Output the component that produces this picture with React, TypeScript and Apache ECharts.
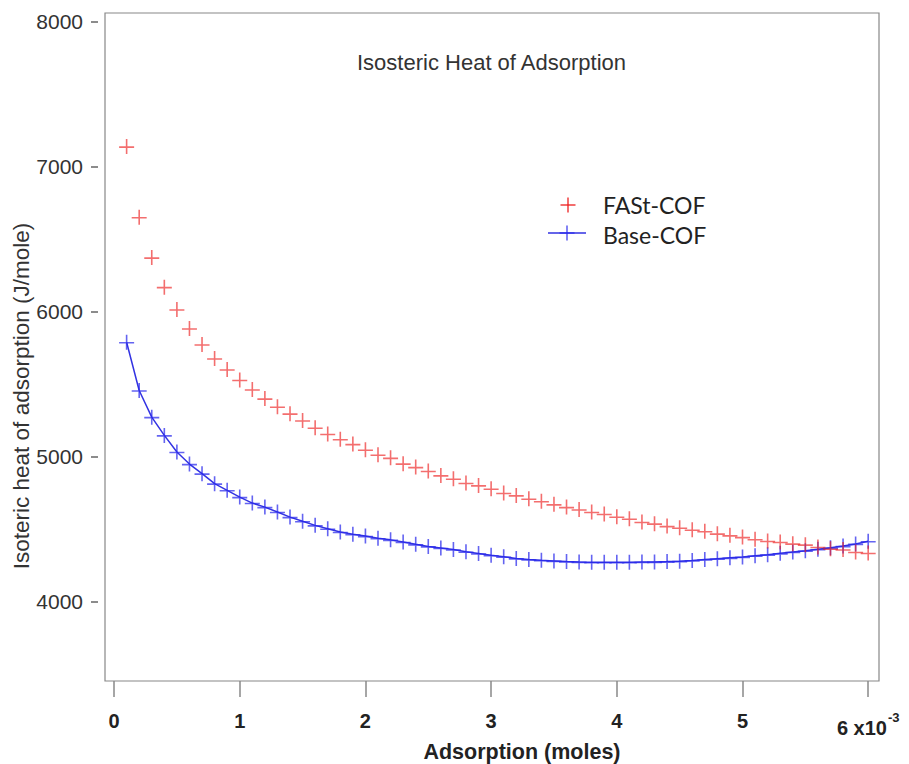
import React, { useEffect, useRef } from "react";
import * as echarts from "echarts";

const adsorption = [
  0.1, 0.2, 0.3, 0.4, 0.5, 0.6, 0.7, 0.8, 0.9, 1.0,
  1.1, 1.2, 1.3, 1.4, 1.5, 1.6, 1.7, 1.8, 1.9, 2.0,
  2.1, 2.2, 2.3, 2.4, 2.5, 2.6, 2.7, 2.8, 2.9, 3.0,
  3.1, 3.2, 3.3, 3.4, 3.5, 3.6, 3.7, 3.8, 3.9, 4.0,
  4.1, 4.2, 4.3, 4.4, 4.5, 4.6, 4.7, 4.8, 4.9, 5.0,
  5.1, 5.2, 5.3, 5.4, 5.5, 5.6, 5.7, 5.8, 5.9, 6.0,
];

const fastCof = [
  7138, 6650, 6372, 6168, 6014, 5883, 5772, 5676, 5600, 5527,
  5462, 5399, 5343, 5295, 5248, 5198, 5155, 5118, 5085, 5046,
  5011, 4990, 4950, 4926, 4899, 4869, 4846, 4816, 4800, 4777,
  4747, 4731, 4708, 4690, 4669, 4650, 4634, 4616, 4603, 4584,
  4570, 4547, 4536, 4519, 4508, 4494, 4483, 4467, 4455, 4443,
  4428, 4416, 4409, 4398, 4391, 4375, 4363, 4357, 4340, 4333,
];

const baseCof = [
  5788, 5455, 5271, 5145, 5030, 4947, 4881, 4812, 4766, 4719,
  4678, 4650, 4616, 4581, 4552, 4524, 4501, 4478, 4463, 4450,
  4435, 4424, 4409, 4393, 4379, 4368, 4357, 4342, 4330, 4318,
  4307, 4296, 4289, 4283, 4279, 4275, 4272, 4270, 4269, 4269,
  4270, 4271, 4272, 4274, 4277, 4282, 4288, 4294, 4300, 4306,
  4314, 4322, 4331, 4340, 4349, 4359, 4369, 4381, 4396, 4414,
];

const xTicks = [0, 1, 2, 3, 4, 5, 6];
const yTicks = [4000, 5000, 6000, 7000, 8000];

const titleText = "Isosteric Heat of Adsorption";
const xName = "Adsorption (moles)";
const yName = "Isoteric heat of adsorption (J/mole)";
const seriesNames = ["FASt-COF", "Base-COF"];

const RED = "rgba(236,28,28,0.8)";
const BLUE_MARK = "rgba(40,40,235,0.72)";
const BLUE_LINE = "#3232e2";
const PLUS = "path://M0,7.2h15v1.6h-15z M6.7,0h1.6v15h-1.6z";
const SANS = "'Liberation Sans', Arial, Helvetica, sans-serif";
const LEG = "Lato, 'Open Sans', sans-serif";

export default function App() {
  const ref = useRef<HTMLDivElement>(null);

  useEffect(() => {
    if (!ref.current) return;
    const chart = echarts.init(ref.current, undefined, { renderer: "svg" });
    const fastData = adsorption.map((x, i) => [x, fastCof[i]]);
    const baseData = adsorption.map((x, i) => [x, baseCof[i]]);

    const plusGraphic = (cx: number, cy: number, color: string) => [
      { type: "rect", shape: { x: cx - 7.5, y: cy - 0.8, width: 15, height: 1.6 }, style: { fill: color } },
      { type: "rect", shape: { x: cx - 0.8, y: cy - 7.5, width: 1.6, height: 15 }, style: { fill: color } },
    ];

    chart.setOption({
      animation: false,
      backgroundColor: "#ffffff",
      title: {
        text: titleText,
        left: 352,
        top: 46,
        textStyle: { fontFamily: SANS, fontSize: 22, fontWeight: "normal", color: "#333" },
      },
      grid: {
        left: 105,
        right: 30,
        top: 13,
        bottom: 83,
        show: true,
        borderColor: "#888",
        borderWidth: 1.2,
        backgroundColor: "transparent",
      },
      xAxis: {
        type: "value",
        min: -0.072,
        max: 6.086,
        axisLine: { show: false, onZero: false },
        splitLine: { show: false },
        axisTick: {
          show: true,
          inside: false,
          length: 16,
          customValues: xTicks,
          lineStyle: { color: "#888", width: 1.5 },
        },
        axisLabel: {
          customValues: xTicks,
          margin: 30,
          fontFamily: SANS,
          fontSize: 20,
          fontWeight: "bold",
          color: "#222",
          formatter: (v: number) => (v === 6 ? "6 x10{sup|-3}" : String(v)),
          rich: {
            sup: {
              fontFamily: SANS,
              fontSize: 13,
              fontWeight: "bold",
              color: "#222",
              verticalAlign: "top",
              padding: [0, 0, 20, 1],
            },
          },
        },
      },
      yAxis: {
        type: "value",
        min: 3450,
        max: 8060,
        offset: 7,
        axisLine: { show: false, onZero: false },
        splitLine: { show: false },
        axisTick: {
          show: true,
          inside: false,
          length: 7,
          customValues: yTicks,
          lineStyle: { color: "#666", width: 1.5 },
        },
        axisLabel: {
          customValues: yTicks,
          margin: 15,
          fontFamily: SANS,
          fontSize: 21,
          color: "#333",
          formatter: (v: number) => String(v),
        },
      },
      graphic: [
        {
          type: "text",
          x: 21,
          y: 396,
          rotation: Math.PI / 2,
          style: {
            text: yName,
            fontFamily: SANS,
            fontSize: 22.5,
            fill: "#333",
            textAlign: "center",
            textVerticalAlign: "middle",
          },
        },
        {
          type: "text",
          x: 522,
          y: 752,
          style: {
            text: xName,
            fontFamily: SANS,
            fontSize: 21.5,
            fontWeight: "bold",
            fill: "#222",
            textAlign: "center",
            textVerticalAlign: "middle",
          },
        },
        ...plusGraphic(568, 205, RED),
        {
          type: "text",
          x: 603,
          y: 205,
          style: { text: seriesNames[0], fontFamily: LEG, fontSize: 23, fill: "#222", textVerticalAlign: "middle" },
        },
        {
          type: "line",
          shape: { x1: 548, y1: 233, x2: 586, y2: 233 },
          style: { stroke: BLUE_LINE, lineWidth: 1.5 },
        },
        ...plusGraphic(567, 233, BLUE_MARK),
        {
          type: "text",
          x: 603,
          y: 235,
          style: { text: seriesNames[1], fontFamily: LEG, fontSize: 23, fill: "#222", textVerticalAlign: "middle" },
        },
      ],
      series: [
        {
          name: seriesNames[0],
          type: "scatter",
          data: fastData,
          symbol: PLUS,
          symbolSize: 15,
          itemStyle: { color: RED },
          z: 3,
        },
        {
          name: seriesNames[1],
          type: "line",
          data: baseData,
          symbol: PLUS,
          symbolSize: 15,
          showAllSymbol: true,
          smooth: false,
          lineStyle: { color: BLUE_LINE, width: 1.5 },
          itemStyle: { color: BLUE_MARK },
          z: 2,
        },
      ],
    });

    return () => chart.dispose();
  }, []);

  return (
    <div
      ref={ref}
      style={{ position: "absolute", left: 0, top: 0, width: 909, height: 764 }}
    />
  );
}
